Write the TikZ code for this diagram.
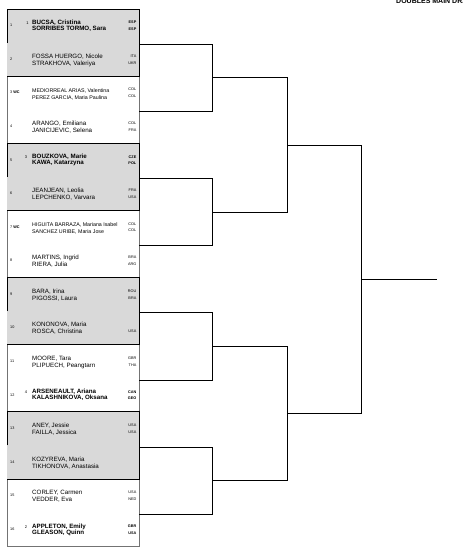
\documentclass[tikz,border=0pt]{standalone}
\usepackage{fontspec}
\setmainfont{Liberation Sans}
\newcommand{\pentry}[7]{%
  \pgfmathsetmacro{\cy}{25.8+33.57*(#1-1)}%
  \node[numtxt] (num#1) at (10,{\cy+1}) {#2};%
  \node[#3] (nama#1) at (32,{\cy#4}) {#6};%
  \node[#3] (namb#1) at (32,{\cy#5}) {#7};%
}
\newcommand{\pctry}[4]{%
  \pgfmathsetmacro{\cy}{25.8+33.57*(#1-1)}%
  \node[#2] (ctya#1) at (136.5,{\cy-2}) {#3};%
  \node[#2] (ctyb#1) at (136.5,{\cy+4.7}) {#4};%
}
\begin{document}
\begin{tikzpicture}[x=1pt,y=-1pt,
  numtxt/.style={anchor=base west,inner sep=0pt,font=\fontsize{3.8}{4}\selectfont},
  seedtxt/.style={anchor=base,inner sep=0pt,font=\fontsize{4}{4}\selectfont},
  nreg/.style={anchor=base west,inner sep=0pt,font=\fontsize{6.2}{7}\selectfont},
  nbold/.style={anchor=base west,inner sep=0pt,font=\fontsize{6.2}{7}\selectfont\bfseries},
  nwc/.style={anchor=base west,inner sep=0pt,font=\fontsize{5.3}{6}\selectfont},
  ctry/.style={anchor=base east,inner sep=0pt,font=\fontsize{3.8}{4}\selectfont},
  ctryb/.style={anchor=base east,inner sep=0pt,font=\fontsize{3.8}{4}\selectfont\bfseries},
  bracket/.style={line width=0.8pt,black},
  whitebox/.style={draw=black!55,line width=0.6pt},
  graybox/.style={fill=black!15},
  grayedge/.style={draw=black,line width=0.7pt},
  titletxt/.style={anchor=base west,inner sep=0pt,font=\fontsize{7}{8}\selectfont\bfseries}
]
\useasboundingbox (0,0) rectangle (463,549);
\begin{scope}
\clip (0,0) rectangle (463,549);
\node[titletxt] (title) at (396,3.6) {DOUBLES MAIN DRAW};
\end{scope}

% groups of the draw sheet
\foreach \g in {1,3,5,7} {
  \pgfmathsetmacro{\gt}{9+67.14*\g}
  \pgfmathsetmacro{\gb}{9+67.14*(\g+1)}
  \draw[whitebox] (7,\gt) rectangle (139,\gb);
}
\foreach \g in {0,2,4,6} {
  \pgfmathsetmacro{\gt}{9+67.14*\g}
  \pgfmathsetmacro{\gb}{9+67.14*(\g+1)}
  \fill[graybox] (7,\gt) rectangle (139,\gb);
  \draw[grayedge] (7,{\gt+33.6}) -- (7,\gt) -- (139,\gt) -- (139,\gb) -- (7,\gb);
}

% entries
\pentry{1}{1}{nbold}{-1.2}{+4.8}{BUCSA, Cristina}{SORRIBES TORMO, Sara}
\pctry{1}{ctryb}{ESP}{ESP}
\pentry{2}{2}{nreg}{-1.1}{+5.9}{FOSSA HUERGO, Nicole}{STRAKHOVA, Valeriya}
\pctry{2}{ctry}{ITA}{UKR}
\pentry{3}{3 \textbf{WC}}{nwc}{-0.9}{+6.1}{MEDIORREAL ARIAS, Valentina}{PEREZ GARCIA, Maria Paulina}
\pctry{3}{ctry}{COL}{COL}
\pentry{4}{4}{nreg}{-1.1}{+5.9}{ARANGO, Emiliana}{JANICIJEVIC, Selena}
\pctry{4}{ctry}{COL}{FRA}
\pentry{5}{5}{nbold}{-1.2}{+4.8}{BOUZKOVA, Marie}{KAWA, Katarzyna}
\pctry{5}{ctryb}{CZE}{POL}
\pentry{6}{6}{nreg}{-1.1}{+5.9}{JEANJEAN, Leolia}{LEPCHENKO, Varvara}
\pctry{6}{ctry}{FRA}{USA}
\pentry{7}{7 \textbf{WC}}{nwc}{-0.9}{+6.1}{HIGUITA BARRAZA, Mariana Isabel}{SANCHEZ URIBE, Maria Jose}
\pctry{7}{ctry}{COL}{COL}
\pentry{8}{8}{nreg}{-1.1}{+5.9}{MARTINS, Ingrid}{RIERA, Julia}
\pctry{8}{ctry}{BRA}{ARG}
\pentry{9}{9}{nreg}{-1.1}{+5.9}{BARA, Irina}{PIGOSSI, Laura}
\pctry{9}{ctry}{ROU}{BRA}
\pentry{10}{10}{nreg}{-1.1}{+5.9}{KONONOVA, Maria}{ROSCA, Christina}
\node[ctry] (ctyb10) at (136.5,{327.93+4.7}) {USA};
\pentry{11}{11}{nreg}{-1.1}{+5.9}{MOORE, Tara}{PLIPUECH, Peangtarn}
\pctry{11}{ctry}{GBR}{THA}
\pentry{12}{12}{nbold}{-1.2}{+4.8}{ARSENEAULT, Ariana}{KALASHNIKOVA, Oksana}
\pctry{12}{ctryb}{CAN}{GEO}
\pentry{13}{13}{nreg}{-1.1}{+5.9}{ANEY, Jessie}{FAILLA, Jessica}
\pctry{13}{ctry}{USA}{USA}
\pentry{14}{14}{nreg}{-1.1}{+5.9}{KOZYREVA, Maria}{TIKHONOVA, Anastasia}
\pentry{15}{15}{nreg}{-1.1}{+5.9}{CORLEY, Carmen}{VEDDER, Eva}
\pctry{15}{ctry}{USA}{NED}
\pentry{16}{16}{nbold}{-1.2}{+4.8}{APPLETON, Emily}{GLEASON, Quinn}
\pctry{16}{ctryb}{GBR}{USA}

% seeds
\node[seedtxt] (seed1) at (27.5,{25.8-1}) {1};
\node[seedtxt] (seed5) at (26,{160.08-1.5}) {3};
\node[seedtxt] (seed12) at (26,{395.07-1.5}) {4};
\node[seedtxt] (seed16) at (26,{529.35-0.5}) {2};

% bracket coordinates
\foreach \k in {0,...,7} {
  \coordinate (p\k) at (139,{44.3+67.14*\k});
  \coordinate (pe\k) at (212,{44.3+67.14*\k});
}
\foreach \j in {0,...,3} {
  \coordinate (q\j) at (212,{77.87+134.28*\j});
  \coordinate (qe\j) at (287,{77.87+134.28*\j});
}
\foreach \j in {0,1} {
  \coordinate (r\j) at (287,{145.01+268.56*\j});
  \coordinate (re\j) at (361.7,{145.01+268.56*\j});
}
\coordinate (s) at (361.7,279.29);
\coordinate (se) at (436.7,279.29);

% bracket lines
\draw[bracket] (p0) -- (pe0) -- (pe1) -- (p1);
\draw[bracket] (p2) -- (pe2) -- (pe3) -- (p3);
\draw[bracket] (p4) -- (pe4) -- (pe5) -- (p5);
\draw[bracket] (p6) -- (pe6) -- (pe7) -- (p7);
\draw[bracket] (q0) -- (qe0) -- (qe1) -- (q1);
\draw[bracket] (q2) -- (qe2) -- (qe3) -- (q3);
\draw[bracket] (r0) -- (re0) -- (re1) -- (r1);
\draw[bracket] (s) -- (se);
\end{tikzpicture}
\end{document}
